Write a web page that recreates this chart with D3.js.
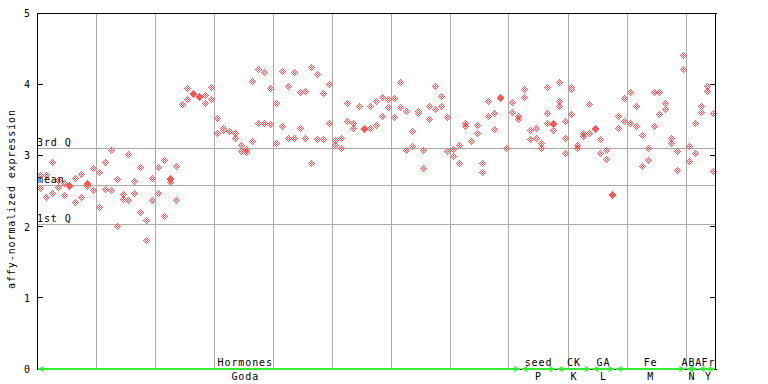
<!DOCTYPE html>
<html>
<head>
<meta charset="utf-8">
<script src="https://cdn.jsdelivr.net/npm/d3@7"></script>
<style>
body { margin: 0; background: #fff; }
text { font-family: "DejaVu Sans Mono", monospace; font-size: 10px; letter-spacing: 0.9px; fill: #000; }
</style>
</head>
<body>
<div id="chart-container"></div>
<script>
// one entry per sample (left to right), replicate values for that sample
const expression = [
    [2.72, 2.54], [2.72, 2.42], [2.91, 2.47], [2.65, 2.56], [2.61, 2.44],
    [2.57, 2.584], [2.68, 2.35], [2.74, 2.42], [2.60, 2.614, 2.57], [2.82, 2.51],
    [2.77, 2.28], [2.91, 2.53], [3.08, 2.51], [2.67, 2.01], [2.46, 2.39],
    [3.02, 2.37], [2.64, 2.47], [2.84, 2.21], [2.09, 1.81], [2.68, 2.37],
    [2.84, 2.47], [2.94, 2.15], [2.68, 2.666, 2.63], [2.85, 2.37], [3.72],
    [3.94, 3.79], [3.86, 3.874], [3.82, 3.834], [3.85, 3.73], [3.96, 3.79],
    [3.52, 3.31], [3.38, 3.35], [3.34], [3.32, 3.24], [3.14, 3.06],
    [3.09, 3.05], [4.04, 3.20], [4.22, 3.46], [4.17, 3.46], [3.94, 3.44],
    [3.73, 3.17], [4.18, 3.41], [3.98, 3.24], [4.17, 3.25], [3.89, 3.38],
    [3.90, 3.24], [4.24, 2.90], [4.15, 3.23], [3.87, 3.23], [4.00, 3.45],
    [3.21, 3.14], [3.25, 3.10], [3.73, 3.48], [3.45, 3.39], [3.69],
    [3.37, 3.384], [3.70, 3.39], [3.77, 3.42], [3.82, 3.56], [3.79, 3.68],
    [3.80, 3.54], [4.03, 3.68], [3.62, 3.07], [3.34, 3.13], [3.62, 3.59],
    [3.07, 2.82], [3.69, 3.51], [3.97, 3.65], [3.84, 3.69], [3.54, 3.06],
    [3.09, 2.99], [3.14, 2.90], [3.46, 3.41], [3.20], [3.42, 3.32],
    [2.89, 2.76], [3.76, 3.56], [3.59, 3.37], [3.80, 3.814], [3.10],
    [3.75, 3.61], [3.56, 3.51], [3.93, 3.82], [3.35, 3.23], [3.38, 3.24],
    [3.18, 3.11], [3.96, 3.59, 3.45], [3.44, 3.454, 3.35], [4.03, 3.77, 3.69], [3.48, 3.25, 3.04],
    [3.96, 3.93, 3.58], [3.14, 3.11], [3.32, 3.27], [3.72, 3.31], [3.39, 3.37],
    [3.23, 3.04], [3.07, 2.95], [2.45, 2.464], [3.55, 3.38], [3.80, 3.48],
    [3.89, 3.45], [3.70, 3.41], [3.28, 2.85], [3.10, 2.93], [3.89, 3.41],
    [3.89, 3.58], [3.73, 3.65], [3.24, 3.18], [3.06, 2.79], [4.41, 4.21],
    [3.13, 2.92], [3.46, 3.04], [3.69, 3.61], [3.97, 3.91], [3.59, 2.78]
];

const groupTop = ["Hormones", "seed", "CK", "GA", "Fe", "ABA", "Fr"];
const groupBottom = ["Goda", "P", "K", "L", "M", "N", "Y"];
const groupSizes = [82, 6, 6, 4, 12, 2, 3];
// sample index where each group label sits
const groupLabelAt = [35.3, 85, 91, 96, 104, 111, 113.8];

const yTicks = [0, 1, 2, 3, 4, 5];
const quartileNames = ["3rd Q", "mean", "1st Q"];
const quartileValues = [3.10, 2.58, 2.03];
const gridEvery = 10;

const width = 768, height = 384;
const plotLeft = 37, plotRight = 715.5, plotTop = 13, plotBottom = 369;
const pointColor = "#ff5555";
const arrowColor = "#33ee33";
const gridColor = "#aaaaaa";

const svg = d3.select("#chart-container")
    .append("svg")
    .attr("width", width)
    .attr("height", height)
    .style("display", "block");

const x = d3.scaleLinear().domain([0, expression.length]).range([plotLeft, plotRight]);
const y = d3.scaleLinear().domain([0, 5]).range([plotBottom, plotTop]);
const px = v => Math.floor(v) + 0.5;

// grid
const grid = svg.append("g").attr("stroke", gridColor).attr("shape-rendering", "crispEdges");
grid.selectAll("line.v")
    .data(d3.range(gridEvery, expression.length, gridEvery))
    .join("line")
    .attr("x1", d => px(x(d))).attr("x2", d => px(x(d)))
    .attr("y1", plotTop).attr("y2", plotBottom);
grid.selectAll("line.h")
    .data(quartileValues)
    .join("line")
    .attr("x1", plotLeft).attr("x2", plotRight)
    .attr("y1", d => px(y(d))).attr("y2", d => px(y(d)));

// points: checkered diamonds
const pts = [];
expression.forEach((vals, i) => vals.forEach(v => pts.push({i: i, v: v})));
const offsets = [];
for (let dx = -3; dx <= 3; dx++) {
    for (let dy = -3; dy <= 3; dy++) {
        const d = Math.abs(dx) + Math.abs(dy);
        if (d <= 3 && d % 2 === 1) offsets.push([dx, dy]);
    }
}
svg.append("g")
    .attr("shape-rendering", "crispEdges")
    .selectAll("path")
    .data(pts)
    .join("path")
    .attr("d", d => {
        const cx = Math.round(x(d.i + 0.5)), cy = Math.round(y(d.v));
        return offsets.map(([dx, dy]) => `M${cx + dx},${cy + dy}h1v1h-1z`).join("");
    })
    .attr("fill", pointColor);

// frame
const frame = svg.append("g").attr("stroke", "#000").attr("shape-rendering", "crispEdges");
frame.append("line").attr("x1", plotLeft + 0.5).attr("x2", plotLeft + 0.5).attr("y1", plotTop).attr("y2", plotBottom + 1);
frame.append("line").attr("x1", px(plotRight)).attr("x2", px(plotRight)).attr("y1", plotTop).attr("y2", plotBottom + 1);
frame.append("line").attr("x1", plotLeft).attr("x2", plotRight + 1).attr("y1", px(y(5))).attr("y2", px(y(5)));
frame.append("line").attr("x1", plotLeft).attr("x2", plotRight + 1).attr("y1", px(y(0))).attr("y2", px(y(0)));
frame.selectAll("line.tl")
    .data(yTicks.slice(1, -1))
    .join("line")
    .attr("x1", plotLeft).attr("x2", plotLeft + 6)
    .attr("y1", d => px(y(d))).attr("y2", d => px(y(d)));
frame.selectAll("line.tr")
    .data(yTicks.slice(1, -1))
    .join("line")
    .attr("x1", plotRight - 6).attr("x2", plotRight)
    .attr("y1", d => px(y(d))).attr("y2", d => px(y(d)));

// tick labels
svg.append("g").selectAll("text")
    .data(yTicks)
    .join("text")
    .attr("x", 31)
    .attr("y", d => y(d) + 4)
    .attr("text-anchor", "end")
    .text(d => d);

// quartile labels
svg.append("g").selectAll("text")
    .data(quartileValues)
    .join("text")
    .attr("x", plotLeft)
    .attr("y", d => Math.floor(y(d)) - 2)
    .text((d, i) => quartileNames[i]);

svg.append("text")
    .attr("transform", `translate(15,${(plotTop + plotBottom) / 2 + 8}) rotate(-90)`)
    .attr("text-anchor", "middle")
    .text("affy-normalized expression");

// group arrows along the bottom
const starts = groupSizes.map((s, k) => d3.sum(groupSizes.slice(0, k)));
const arrows = svg.append("g").attr("stroke", arrowColor).attr("fill", "none");
starts.forEach((s, k) => {
    const x0 = x(s), x1 = x(s + groupSizes[k]);
    arrows.append("line")
        .attr("x1", x0 + 1).attr("x2", x1 - 1)
        .attr("y1", plotBottom).attr("y2", plotBottom)
        .attr("stroke-width", 2);
    arrows.append("path")
        .attr("d", `M${x0 + 7},${plotBottom - 2.5}L${x0 + 2},${plotBottom}L${x0 + 7},${plotBottom + 2.5}`)
        .attr("stroke-width", 1.3);
    arrows.append("path")
        .attr("d", `M${x1 - 7},${plotBottom - 2.5}L${x1 - 2},${plotBottom}L${x1 - 7},${plotBottom + 2.5}`)
        .attr("stroke-width", 1.3);
});

svg.append("g").selectAll("text")
    .data(groupTop)
    .join("text")
    .attr("x", (d, k) => x(groupLabelAt[k]))
    .attr("y", plotBottom - 3)
    .attr("text-anchor", "middle")
    .text(d => d);

svg.append("g").selectAll("text")
    .data(groupBottom)
    .join("text")
    .attr("x", (d, k) => x(groupLabelAt[k]))
    .attr("y", plotBottom + 10.5)
    .attr("text-anchor", "middle")
    .text(d => d);
</script>
</body>
</html>
